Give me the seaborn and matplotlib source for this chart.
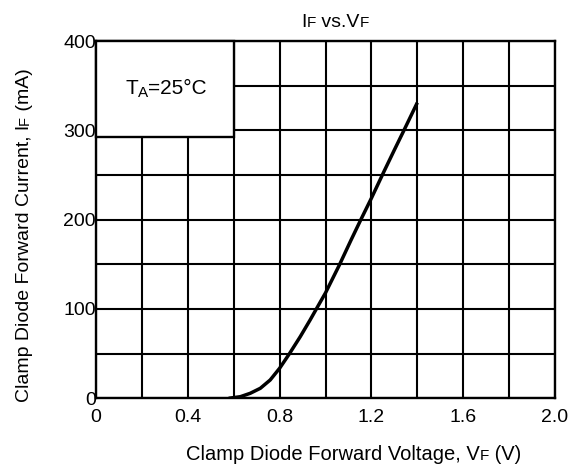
import matplotlib
matplotlib.use("Agg")
import matplotlib.pyplot as plt
import seaborn as sns
import pandas as pd
from matplotlib.patches import Rectangle

# ---- data ----
vf_volts = [0.578, 0.629, 0.672, 0.716, 0.759, 0.80, 0.843, 0.890, 0.933, 0.97,
            1.00, 1.06, 1.111, 1.154, 1.20, 1.255, 1.30, 1.339, 1.40]
if_ma = [0, 1.8, 5.6, 11.2, 20.5, 33.6, 50, 69, 87.7, 104.5,
         118, 149, 177, 200, 224, 254, 278, 298.5, 331]
x_ticks = [0, 0.4, 0.8, 1.2, 1.6, 2.0]
x_tick_labels = ["0", "0.4", "0.8", "1.2", "1.6", "2.0"]
y_ticks = [0, 100, 200, 300, 400]
y_tick_labels = ["0", "100", "200", "300", "400"]

df = pd.DataFrame({"VF": vf_volts, "IF": if_ma})

sns.set_theme(style="white")
plt.rcParams["font.family"] = ["Liberation Sans", "DejaVu Sans"]

W, H = 573, 469
fig = plt.figure(figsize=(W / 100, H / 100), dpi=100)
ax = fig.add_axes([96 / W, (H - 398.3) / H, (555 - 96) / W, (398.3 - 41) / H])

sns.lineplot(data=df, x="VF", y="IF", ax=ax, color="black", linewidth=2.5,
             zorder=5, estimator=None, sort=False,
             solid_joinstyle="round", solid_capstyle="butt")

ax.set_xlim(0, 2.0)
ax.set_ylim(0, 400)
ax.set_xticks(x_ticks)
ax.set_xticklabels(x_tick_labels)
ax.set_yticks(y_ticks)
ax.set_yticklabels(y_tick_labels)
ax.set_xticks([0.2 * i for i in range(11)], minor=True)
ax.set_yticks([50 * i for i in range(9)], minor=True)
ax.grid(True, which="both", color="black", linewidth=1.5, zorder=1)
ax.set_axisbelow(True)
ax.tick_params(axis="both", which="both", length=0, labelsize=14, colors="black")
ax.tick_params(axis="x", pad=8)
ax.tick_params(axis="y", pad=0)
for s in ax.spines.values():
    s.set_color("black")
    s.set_linewidth(1.7)
ax.set_xlabel("")
ax.set_ylabel("")

# boxed annotation
ax.add_patch(Rectangle((0, 292), 0.6, 108, facecolor="white", edgecolor="black",
                       linewidth=1.7, zorder=4, clip_on=False))


def rainbow(pieces, x, y, rotation=0):
    """Draw text pieces (string, size, dy-down-px) with baseline alignment, centred at x,y (px from top-left)."""
    r = fig.canvas.get_renderer()
    arts = []
    for s, size, dy in pieces:
        t = fig.text(0, 0, s, fontsize=size, color="black", rotation=rotation,
                     va="baseline", ha="left", rotation_mode="anchor")
        arts.append((t, dy))
    widths = []
    for t, _ in arts:
        bb = t.get_window_extent(renderer=r)
        widths.append(bb.height if rotation else bb.width)
    total = sum(widths)
    px, py = x, H - y
    if rotation:
        start = py - total / 2
        for (t, dy), w in zip(arts, widths):
            t.set_position(((px + 5 + dy) / W, start / H))
            start += w
    else:
        start = px - total / 2
        for (t, dy), w in zip(arts, widths):
            t.set_position((start / W, (py - 5 - dy) / H))
            start += w


rainbow([("I", 14, 0), ("F", 11, 0), (" vs.V", 14, 0), ("F", 11, 0)], 335, 22)
rainbow([("Clamp Diode Forward Voltage, V", 14.5, 0), ("F", 11, 0), (" (V)", 14.5, 0)], 354, 455)
rainbow([("Clamp Diode Forward Current, I", 14, 0), ("F", 10.5, 0), (" (mA)", 14, 0)], 24, 235,
        rotation=90)
rainbow([("T", 15, 0), ("A", 11, 3), ("=25°C", 15, 0)], 166, 89)

fig.savefig("out.png", dpi=100)
